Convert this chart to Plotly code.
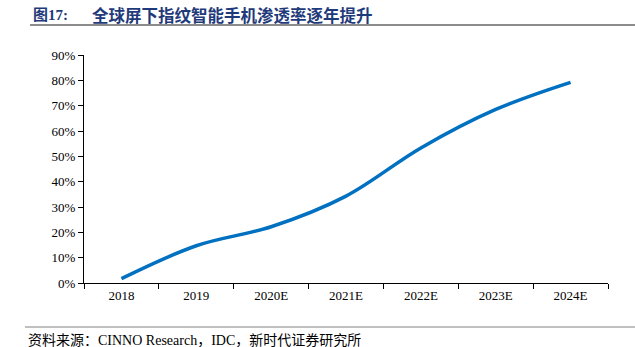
import plotly.graph_objects as go

years = ["2018", "2019", "2020E", "2021E", "2022E", "2023E", "2024E"]
penetration = [0.017, 0.147, 0.222, 0.343, 0.533, 0.685, 0.792]
y_ticks = [0, 0.1, 0.2, 0.3, 0.4, 0.5, 0.6, 0.7, 0.8, 0.9]
y_labels = ["0%", "10%", "20%", "30%", "40%", "50%", "60%", "70%", "80%", "90%"]

W, H = 635, 347
L, R, T, B = 84, 27, 55, 64
pw = W - L - R
ph = H - T - B

def px(x):
    return (x - L) / pw

def py(y):
    return (H - B - y) / ph

serif = "Liberation Serif, Times New Roman, Noto Sans CJK SC, serif"

fig = go.Figure()
fig.add_trace(go.Scatter(
    x=years, y=penetration, mode="lines",
    line=dict(color="#0070C0", width=3.5, shape="spline", smoothing=1.0),
    hoverinfo="skip", showlegend=False,
))

fig.update_layout(
    width=W, height=H, autosize=False,
    margin=dict(l=L, r=R, t=T, b=B),
    paper_bgcolor="white", plot_bgcolor="white",
    font=dict(family=serif, size=13, color="#000000"),
    xaxis=dict(
        type="category", tickson="boundaries", ticks="outside", ticklen=5,
        tickcolor="#000000", showline=True, linecolor="#000000", linewidth=1,
        showgrid=False, zeroline=False, tickfont=dict(family=serif, size=13),
        range=[-0.5, 6.5],
    ),
    yaxis=dict(
        range=[0, 0.9], tickvals=y_ticks, ticktext=y_labels,
        ticks="outside", ticklen=5, tickcolor="#000000",
        showline=True, linecolor="#000000", linewidth=1,
        showgrid=False, zeroline=False, tickfont=dict(family=serif, size=13),
    ),
)

# Title
fig.add_annotation(
    xref="paper", yref="paper", x=px(31), y=py(15), xanchor="left", yanchor="middle",
    text="<b>图17:</b>", showarrow=False,
    font=dict(family="Liberation Serif, Noto Sans CJK SC", size=15, color="#1F3A7A"),
)
fig.add_annotation(
    xref="paper", yref="paper", x=px(90), y=py(15), xanchor="left", yanchor="middle",
    text="<b>全球屏下指纹智能手机渗透率逐年提升</b>", showarrow=False,
    font=dict(family="Noto Sans CJK SC", size=16.5, color="#1F3A7A"),
)
# Source
fig.add_annotation(
    xref="paper", yref="paper", x=px(26), y=py(340), xanchor="left", yanchor="middle",
    text="资料来源：CINNO Research，IDC，新时代证券研究所", showarrow=False,
    font=dict(family="Liberation Serif, Noto Sans CJK SC", size=14, color="#000000"),
)
# Rules
fig.add_shape(type="line", xref="paper", yref="paper",
              x0=px(30), x1=px(635), y0=py(25), y1=py(25),
              line=dict(color="#8C8C8C", width=2))
fig.add_shape(type="line", xref="paper", yref="paper",
              x0=px(25), x1=px(635), y0=py(327), y1=py(327),
              line=dict(color="#808080", width=1))

fig.write_html("out.html")
